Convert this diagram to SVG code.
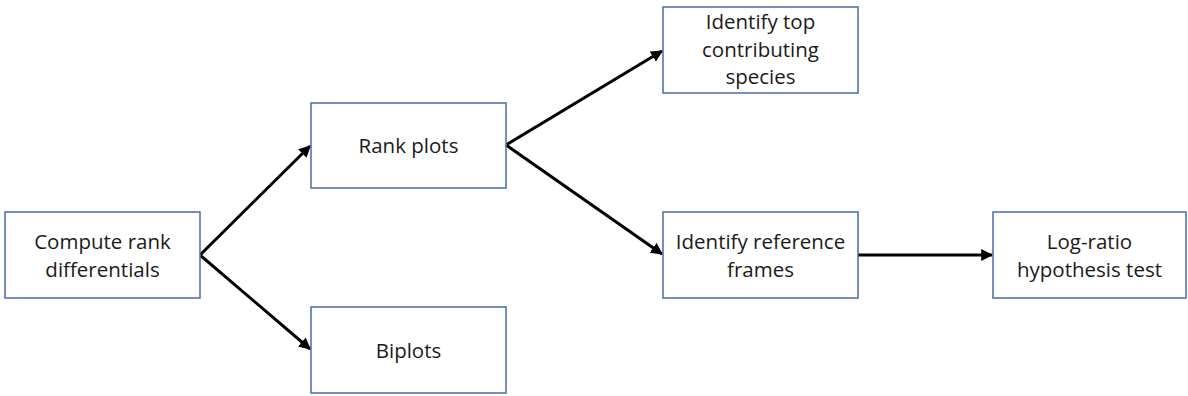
<svg xmlns="http://www.w3.org/2000/svg" width="1188" height="396" viewBox="0 0 1188 396">
<style>
.box{fill:#ffffff;stroke:#4a6bb0;stroke-width:1.5}
.t{font-family:"Open Sans","Liberation Sans",sans-serif;font-size:20.5px;fill:#1a1a1a;text-anchor:middle}
.c{stroke:#000;stroke-width:3;fill:none;marker-end:url(#ah)}
</style>
<defs>
<marker id="ah" viewBox="0 0 10 10" refX="9" refY="5" markerWidth="4" markerHeight="4" orient="auto" markerUnits="strokeWidth">
<path d="M0,0 L10,5 L0,10 Z" fill="#000"/>
</marker>
</defs>
<rect width="1188" height="396" fill="#fff"/>
<g id="connectors">
<line class="c" x1="200" y1="255" x2="310" y2="146"/>
<line class="c" x1="200" y1="255" x2="310" y2="349"/>
<line class="c" x1="506" y1="145" x2="662" y2="51"/>
<line class="c" x1="506" y1="145" x2="662" y2="254"/>
<line class="c" x1="858" y1="255" x2="992" y2="255"/>
</g>
<g id="n1"><rect class="box" x="5" y="212" width="195" height="86"/>
<text class="t" x="102.5" y="249">Compute rank</text><text class="t" x="102.5" y="277">differentials</text></g>
<g id="n2"><rect class="box" x="311" y="103" width="195" height="85"/>
<text class="t" x="408.5" y="153">Rank plots</text></g>
<g id="n3"><rect class="box" x="311" y="307" width="195" height="86"/>
<text class="t" x="408.5" y="358">Biplots</text></g>
<g id="n4"><rect class="box" x="663" y="7" width="195" height="86"/>
<text class="t" x="760.5" y="29">Identify top</text><text class="t" x="760.5" y="57">contributing</text><text class="t" x="760.5" y="84">species</text></g>
<g id="n5"><rect class="box" x="663" y="212" width="195" height="86"/>
<text class="t" x="760.5" y="249">Identify reference</text><text class="t" x="760.5" y="277">frames</text></g>
<g id="n6"><rect class="box" x="993" y="212" width="193" height="86"/>
<text class="t" x="1089.5" y="249">Log-ratio</text><text class="t" x="1089.5" y="277">hypothesis test</text></g>
</svg>
